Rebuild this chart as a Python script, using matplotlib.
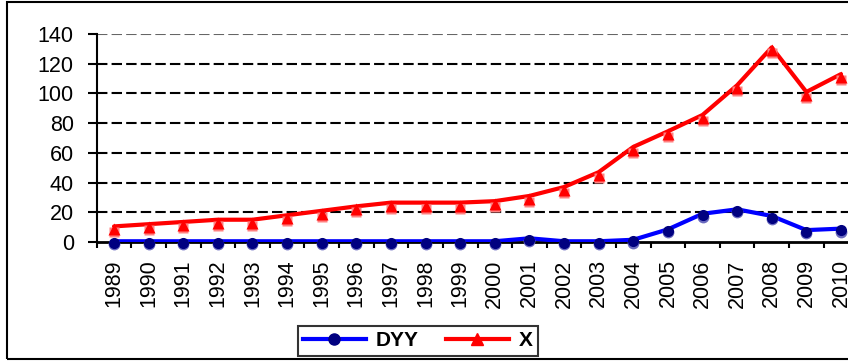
import matplotlib
matplotlib.use("Agg")
import matplotlib.pyplot as plt
import matplotlib.transforms as mtransforms
from matplotlib.lines import Line2D
from matplotlib.patches import Rectangle

years = ["1989", "1990", "1991", "1992", "1993", "1994", "1995", "1996", "1997", "1998", "1999",
         "2000", "2001", "2002", "2003", "2004", "2005", "2006", "2007", "2008", "2009", "2010"]
dyy = [0.5, 0.5, 0.5, 0.5, 0.5, 0.5, 0.5, 0.5, 0.5, 0.5, 0.5,
       0.5, 2.5, 0.5, 0.5, 1.5, 8.5, 19.0, 22.0, 17.5, 8.0, 9.0]
x_vals = [10.5, 12.0, 13.5, 15.0, 15.0, 18.0, 21.0, 24.0, 26.5, 26.5, 26.5,
          27.5, 31.0, 37.0, 47.0, 64.0, 74.5, 85.5, 105.5, 131.0, 101.0, 113.0]
yticks = [0, 20, 40, 60, 80, 100, 120, 140]

plt.rcParams['font.family'] = ['Liberation Sans', 'DejaVu Sans']

fig = plt.figure(figsize=(8.48, 3.63), dpi=100)
ax = fig.add_axes([96.7 / 848, 121 / 363, 761.6 / 848, 208 / 363])

pos = list(range(len(years)))

ax.plot(pos, x_vals, color='#FF0000', lw=3, zorder=4, solid_capstyle='round')
ax.plot(pos, dyy, color='#0000FF', lw=3, zorder=4, solid_capstyle='round')

def off(dy_px):
    return ax.transData + mtransforms.ScaledTranslation(0, -dy_px / 100, fig.dpi_scale_trans)

# marker shadows and markers (slightly offset below the line)
ax.plot(pos, x_vals, ls='none', marker='s', ms=7, color='#FF8080', mec='none',
        transform=off(6), zorder=5, clip_on=False)
ax.plot(pos, x_vals, ls='none', marker='^', ms=9, color='#FF0000', mec='none',
        transform=off(3), zorder=6, clip_on=False)
ax.plot(pos, dyy, ls='none', marker='o', ms=8.5, color='#6A6ABF', mec='none',
        transform=off(3), zorder=5, clip_on=False)
ax.plot(pos, dyy, ls='none', marker='o', ms=8, color='#000080', mec='none',
        transform=off(1.5), zorder=6, clip_on=False)

ax.set_xlim(-0.5, len(years) - 0.5)
ax.set_ylim(0, 140)
ax.set_yticks(yticks)
ax.set_yticklabels([str(v) for v in yticks])
ax.set_xticks(pos)
ax.set_xticklabels(years, rotation=90)
ax.set_xticks([p - 0.5 for p in pos] + [len(years) - 0.5], minor=True)

ax.tick_params(axis='y', direction='out', length=6.5, width=1.5, pad=10, labelsize=15.5)
ax.tick_params(axis='x', which='major', length=0, pad=12.5, labelsize=15.5)
ax.tick_params(axis='x', which='minor', direction='out', length=4.3, width=1.5)

for s in ['top', 'right']:
    ax.spines[s].set_visible(False)
ax.spines['left'].set_linewidth(1.5)
ax.spines['bottom'].set_linewidth(2)
ax.spines['bottom'].set_zorder(3)

for v in yticks[1:-1]:
    ax.axhline(v, color='black', lw=1.5, ls=(0, (5, 2)), zorder=1)
ax.axhline(140, color='black', lw=1.5, ls=(0, (5, 2)), zorder=1, alpha=0.6)

handles = [
    Line2D([], [], color='#0000FF', lw=3, marker='o', ms=8, mfc='#000080', mec='#000080'),
    Line2D([], [], color='#FF0000', lw=3, marker='^', ms=8, mfc='#FF0000', mec='#FF0000'),
]
leg = fig.legend(handles, ['DYY', 'X'], loc='center', bbox_to_anchor=(418 / 848, 22 / 363),
                 bbox_transform=fig.transFigure, ncol=2, frameon=True, fancybox=False,
                 edgecolor='black', handlelength=3.0, columnspacing=1.3, handletextpad=0.5,
                 borderpad=0.25, prop={'weight': 'bold', 'size': 15})
leg.get_frame().set_linewidth(1.5)

fig.patches.append(Rectangle((7 / 848, 4 / 363), 1.0, 357.5 / 363, transform=fig.transFigure,
                             fill=False, edgecolor='black', lw=1.5, zorder=10))

fig.savefig('out.png', dpi=100)
